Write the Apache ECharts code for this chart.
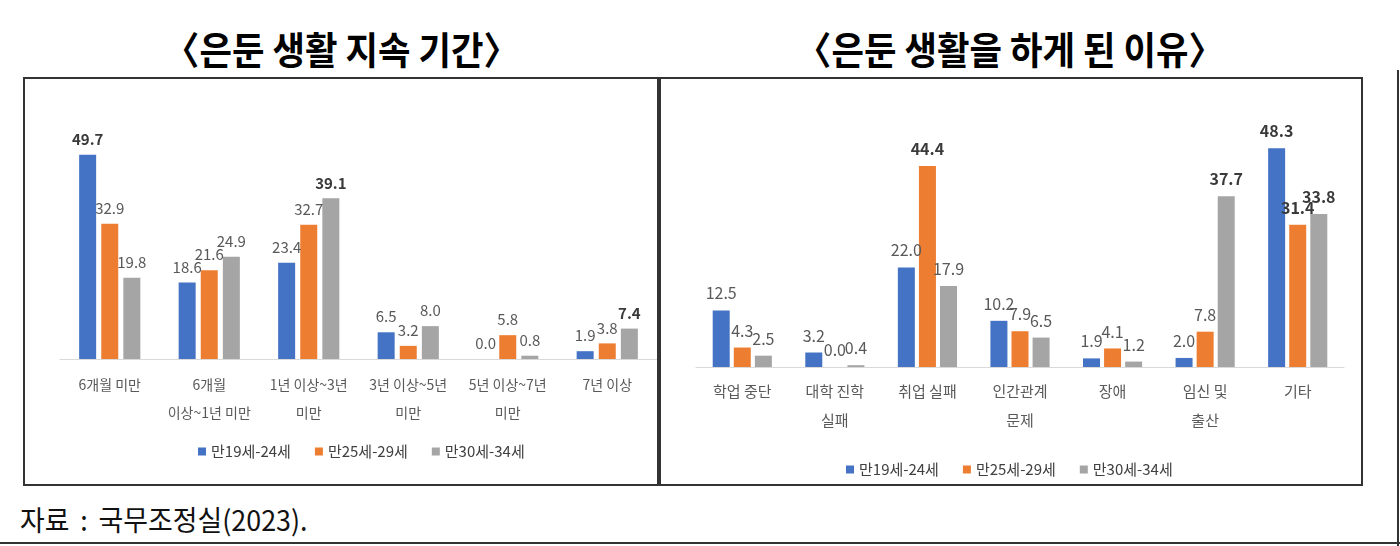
<!DOCTYPE html>
<html>
<head>
<meta charset="utf-8">
<script src="https://cdn.jsdelivr.net/npm/echarts@6/dist/echarts.min.js"></script>
<style>
  body {
    margin: 0;
    width: 1400px;
    height: 546px;
    background: #fff;
    position: relative;
    overflow: hidden;
    font-family: "Noto Sans CJK KR", sans-serif;
  }
  .title {
    position: absolute;
    top: 26px;
    line-height: 44px;
    font-size: 38px;
    font-weight: 700;
    color: #000;
    text-align: center;
    white-space: nowrap;
    transform: scaleX(0.93);
    transform-origin: center;
  }
  .box {
    position: absolute;
    top: 77px;
    height: 405px;
    border: 2px solid #333;
  }
  .chart {
    position: absolute;
    top: 77px;
    height: 407px;
  }
  .source {
    position: absolute;
    left: 20px;
    top: 501px;
    line-height: 36px;
    font-size: 28px;
    color: #111;
    word-spacing: 5px;
    white-space: nowrap;
    transform: scaleX(0.96);
    transform-origin: left center;
  }
  .edge-r { position: absolute; left: 1397px; top: 70px; width: 2px; height: 476px; background: #333; }
  .edge-b { position: absolute; left: 0; top: 542px; width: 1400px; height: 2px; background: #333; }
</style>
</head>
<body>
  <div class="title" style="left:24px;width:635px;">〈은둔 생활 지속 기간〉</div>
  <div class="title" style="left:659px;width:702px;">〈은둔 생활을 하게 된 이유〉</div>

  <div class="box" style="left:23px;width:634px;"></div>
  <div class="box" style="left:657px;width:702px;"></div>

  <div id="chart1" class="chart" style="left:25px;width:632px;"></div>
  <div id="chart2" class="chart" style="left:659px;width:700px;"></div>

  <div class="source">자료 : 국무조정실(2023).</div>
  <div class="edge-r"></div>
  <div class="edge-b"></div>

<script>
// 은둔 생활 지속 기간
const durCats = ['6개월 미만', '6개월\n이상~1년 미만', '1년 이상~3년\n미만', '3년 이상~5년\n미만', '5년 이상~7년\n미만', '7년 이상'];
const durAge19 = [49.7, 18.6, 23.4, 6.5, 0.0, 1.9];
const durAge25 = [32.9, 21.6, 32.7, 3.2, 5.8, 3.8];
const durAge30 = [19.8, 24.9, 39.1, 8.0, 0.8, 7.4];

// 은둔 생활을 하게 된 이유
const reasonCats = ['학업 중단', '대학 진학\n실패', '취업 실패', '인간관계\n문제', '장애', '임신 및\n출산', '기타'];
const reasonAge19 = [12.5, 3.2, 22.0, 10.2, 1.9, 2.0, 48.3];
const reasonAge25 = [4.3, 0.0, 44.4, 7.9, 4.1, 7.8, 31.4];
const reasonAge30 = [2.5, 0.4, 17.9, 6.5, 1.2, 37.7, 33.8];

const ageNames = ['만19세-24세', '만25세-29세', '만30세-34세'];
const colors = ['#4472C4', '#ED7D31', '#A5A5A5'];

// 굵게 표시되는 라벨 (series별 index)
const durBold = [[0], [], [2, 5]];
const reasonBold = [[6], [2, 6], [5, 6]];

function buildSeries(valueLists, boldLists, cfg) {
  return valueLists.map((vals, s) => ({
    name: ageNames[s],
    type: 'bar',
    barWidth: cfg.barWidth,
    barGap: cfg.barGap,
    itemStyle: { color: colors[s] },
    label: {
      show: true,
      position: 'top',
      distance: cfg.labelDist,
      fontSize: cfg.labelSize,
      color: '#595959',
      formatter: p => Number(p.value).toFixed(1)
    },
    data: vals.map((v, i) => boldLists[s].includes(i)
      ? { value: v, label: { fontWeight: 'bold', color: '#3a3a3a' } }
      : v)
  }));
}

function drawChart(el, cats, valueLists, boldLists, cfg) {
  const chart = echarts.init(el);
  chart.setOption({
    animation: false,
    textStyle: { fontFamily: '"Noto Sans CJK KR", sans-serif' },
    legend: {
      data: ageNames,
      left: cfg.legendLeft,
      top: cfg.legendTop,
      icon: 'rect',
      itemWidth: 8,
      itemHeight: 8,
      itemGap: 24,
      textStyle: { fontSize: 15, color: '#404040' }
    },
    grid: cfg.grid,
    xAxis: {
      type: 'category',
      data: cats,
      axisTick: { show: false },
      axisLine: { lineStyle: { color: '#d9d9d9', width: 1 } },
      axisLabel: {
        interval: 0,
        fontSize: cfg.catSize,
        lineHeight: cfg.catLine,
        margin: cfg.catMargin,
        color: '#595959'
      }
    },
    yAxis: { type: 'value', min: 0, max: 55, show: false },
    series: buildSeries(valueLists, boldLists, cfg)
  });
}

drawChart(document.getElementById('chart1'), durCats, [durAge19, durAge25, durAge30], durBold, {
  grid: { left: 35, top: 56, width: 600, height: 226 },
  barWidth: 17, barGap: '30%', labelDist: 8, labelSize: 15,
  catSize: 14, catLine: 28, catMargin: 12,
  legendTop: 362, legendLeft: 168
});

drawChart(document.getElementById('chart2'), reasonCats, [reasonAge19, reasonAge25, reasonAge30], reasonBold, {
  grid: { left: 37, top: 41, width: 648, height: 249 },
  barWidth: 17, barGap: '24%', labelDist: 9, labelSize: 16,
  catSize: 15, catLine: 29, catMargin: 10,
  legendTop: 380, legendLeft: 182
});
</script>
</body>
</html>
